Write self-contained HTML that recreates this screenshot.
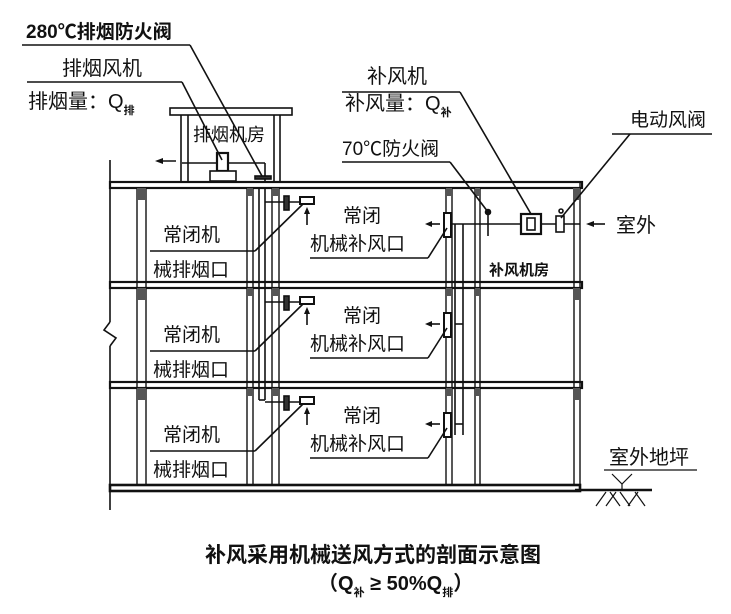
<!DOCTYPE html>
<html><head><meta charset="utf-8"><style>
html,body{margin:0;padding:0;background:#fff;}
svg{display:block;}
text{font-family:"Liberation Sans","Noto Sans CJK SC",sans-serif;fill:#111;}
</style></head><body>
<svg width="731" height="614" viewBox="0 0 731 614" xmlns="http://www.w3.org/2000/svg">
<g stroke="#111" fill="none" stroke-width="1.6">
<line x1="110" y1="160" x2="110" y2="322"/>
<polyline points="110,322 104,330 116,338 110,346"/>
<line x1="110" y1="346" x2="110" y2="510"/>
<rect x="110" y="182" width="472" height="6" fill="#fff" stroke-width="2.2"/>
<rect x="110" y="282" width="472" height="6" fill="#fff" stroke-width="2.2"/>
<rect x="110" y="382" width="472" height="6" fill="#fff" stroke-width="2.2"/>
<rect x="110" y="485" width="470" height="6" fill="#fff" stroke-width="2.6"/>
<line x1="575" y1="490" x2="652" y2="490" stroke-width="2.6"/>
<g stroke-width="1.4">
<line x1="137" y1="188" x2="137" y2="485"/><line x1="146" y1="188" x2="146" y2="485"/>
<line x1="247" y1="188" x2="247" y2="485"/><line x1="253" y1="188" x2="253" y2="485"/>
<line x1="272" y1="188" x2="272" y2="485"/><line x1="279" y1="188" x2="279" y2="485"/>
<line x1="446" y1="188" x2="446" y2="485"/><line x1="452" y1="188" x2="452" y2="485"/>
<line x1="475" y1="188" x2="475" y2="485"/><line x1="480" y1="188" x2="480" y2="485"/>
<line x1="574" y1="188" x2="574" y2="485"/><line x1="580" y1="182" x2="580" y2="485"/>
</g>
<g fill="#555" stroke="none">
<rect x="137" y="188" width="9" height="12"/><rect x="137" y="288" width="9" height="12"/><rect x="137" y="388" width="9" height="12"/>
<rect x="247" y="188" width="6" height="8"/><rect x="247" y="288" width="6" height="8"/><rect x="247" y="388" width="6" height="8"/>
<rect x="272" y="188" width="7" height="8"/><rect x="272" y="288" width="7" height="8"/><rect x="272" y="388" width="7" height="8"/>
<rect x="446" y="188" width="6" height="8"/><rect x="446" y="288" width="6" height="8"/><rect x="446" y="388" width="6" height="8"/>
<rect x="475" y="188" width="5" height="8"/><rect x="475" y="288" width="5" height="8"/><rect x="475" y="388" width="5" height="8"/>
<rect x="573" y="188" width="7" height="12"/><rect x="573" y="288" width="7" height="12"/><rect x="573" y="388" width="7" height="12"/>
</g>
<rect x="170" y="108" width="122" height="7" fill="#fff"/>
<line x1="181" y1="115" x2="181" y2="182"/><line x1="188" y1="115" x2="188" y2="182"/>
<line x1="274" y1="115" x2="274" y2="182"/><line x1="280" y1="115" x2="280" y2="182"/>
<line x1="182" y1="163" x2="265" y2="163"/>
<line x1="265" y1="163" x2="265" y2="182"/>
<line x1="259" y1="188" x2="259" y2="400"/>
<line x1="265" y1="188" x2="265" y2="400"/>
<line x1="259" y1="400" x2="265" y2="400"/>
<rect x="217" y="153" width="11" height="18" fill="#fff" stroke-width="2.2"/>
<rect x="210" y="171" width="26" height="10" fill="#fff"/>
<rect x="255" y="176" width="16" height="3" fill="#333"/>
<line x1="158" y1="161" x2="176" y2="161"/>
<polygon points="155,161 163,158 163,164" fill="#111" stroke="none"/>
<line x1="452" y1="224" x2="580" y2="224"/>
<line x1="455" y1="224" x2="455" y2="435"/>
<line x1="463" y1="224" x2="463" y2="435"/>
<rect x="521" y="214" width="20" height="20" fill="#fff" stroke-width="2.2"/>
<rect x="527" y="218" width="8" height="12" fill="#fff"/>
<rect x="556" y="216" width="8" height="16" fill="#fff"/>
<line x1="488" y1="212" x2="488" y2="236"/>
<circle cx="488" cy="212" r="2.5" fill="#111"/>
<circle cx="561" cy="211" r="2" fill="#fff"/>
<line x1="590" y1="224" x2="605" y2="224"/>
<polygon points="586,224 594,221 594,227" fill="#111" stroke="none"/>
<g stroke-width="1.2">
<line x1="596" y1="506" x2="606" y2="492"/><line x1="606" y1="506" x2="616" y2="492"/>
<line x1="620" y1="506" x2="610" y2="492"/><line x1="630" y1="506" x2="620" y2="492"/>
<line x1="628" y1="506" x2="638" y2="492"/><line x1="645" y1="506" x2="635" y2="492"/>
<polyline points="612,474 622,484 632,474"/>
<line x1="622" y1="484" x2="622" y2="490"/>
<line x1="604" y1="470" x2="697" y2="470"/>
</g>
<line x1="22" y1="45" x2="190" y2="45"/><line x1="190" y1="45" x2="262" y2="176"/>
<line x1="27" y1="82" x2="182" y2="82"/><line x1="182" y1="82" x2="222" y2="160"/>
<line x1="342" y1="92" x2="460" y2="92"/><line x1="460" y1="92" x2="531" y2="214"/>
<line x1="342" y1="162" x2="450" y2="162"/><line x1="450" y1="162" x2="488" y2="212"/>
<line x1="612" y1="134" x2="712" y2="134"/><line x1="630" y1="134" x2="561" y2="218"/>
</g>
<g id="fl">
<g stroke="#111" fill="none" stroke-width="1.6">
<line x1="265" y1="202" x2="312" y2="202"/>
<rect x="284" y="196" width="5" height="14" fill="#333"/>
<rect x="300" y="197" width="14" height="7" fill="#fff" stroke-width="2"/>
<line x1="307" y1="212" x2="307" y2="225"/>
<line x1="150" y1="251" x2="255" y2="251"/><line x1="255" y1="251" x2="303" y2="204"/>
<rect x="444" y="213" width="7" height="24" fill="#fff" stroke-width="2"/>
<line x1="428" y1="224" x2="440" y2="224"/>
<line x1="310" y1="258" x2="428" y2="258"/><line x1="428" y1="258" x2="447" y2="228"/>
</g>
<polygon points="307,207 304,214 310,214" fill="#111"/>
<polygon points="425,224 432,221 432,227" fill="#111"/>
<text x="163" y="241" font-size="19">常闭机</text>
<text x="153" y="276" font-size="19">械排烟口</text>
<text x="343" y="222" font-size="19">常闭</text>
<text x="310" y="250" font-size="19">机械补风口</text>
</g>
<use href="#fl" y="100"/>
<use href="#fl" y="200"/>
<g stroke="#111" stroke-width="1.6"><line x1="455" y1="324" x2="463" y2="324"/><line x1="455" y1="424" x2="463" y2="424"/></g>
<text x="26" y="38" font-size="19" font-weight="bold">280℃排烟防火阀</text>
<text x="62" y="75" font-size="20">排烟风机</text>
<text x="28" y="108" font-size="20">排烟量：Q<tspan font-size="11" font-weight="bold" dy="6">排</tspan></text>
<text x="193" y="141" font-size="18">排烟机房</text>
<text x="367" y="83" font-size="20">补风机</text>
<text x="345" y="110" font-size="20">补风量：Q<tspan font-size="11" font-weight="bold" dy="6">补</tspan></text>
<text x="342" y="155" font-size="19">70℃防火阀</text>
<text x="630" y="126" font-size="19">电动风阀</text>
<text x="616" y="232" font-size="20">室外</text>
<text x="489" y="275" font-size="15" font-weight="bold">补风机房</text>
<text x="609" y="464" font-size="20">室外地坪</text>
<text x="205" y="562" font-size="21" font-weight="bold">补风采用机械送风方式的剖面示意图</text>
<text x="318" y="590" font-size="20" font-weight="bold">（Q<tspan font-size="11" dy="6">补</tspan><tspan dy="-6"> ≥ 50%Q</tspan><tspan font-size="11" dy="6">排</tspan><tspan dy="-6">）</tspan></text>
</svg>
</body></html>
